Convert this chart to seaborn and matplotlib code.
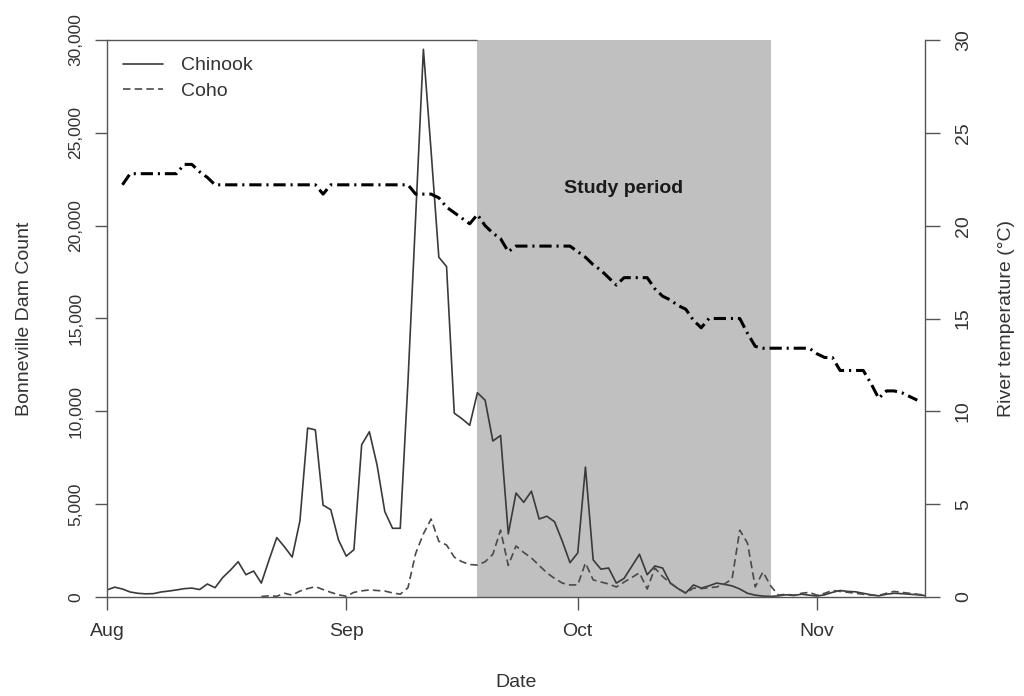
import numpy as np
import pandas as pd
import matplotlib
matplotlib.use("Agg")
import matplotlib.pyplot as plt
import matplotlib.dates as mdates
import matplotlib.ticker as mticker
import seaborn as sns

# --- data (daily values) ---
chinook_start = "2013-08-01"
chinook_counts = [
    # Aug
    380, 530, 430, 270, 200, 170, 180, 270, 320, 380, 450, 480, 400, 700, 500, 1050,
    1450, 1900, 1200, 1400, 750, 2000, 3200, 2700, 2150, 4100, 9100, 9000, 4950, 4700, 3070,
    # Sep
    2200, 2550, 8200, 8900, 7100, 4600, 3700, 3700, 11600, 20500, 29500, 24000, 18300, 17800, 9900,
    9600, 9250, 11000, 10600, 8400, 8700, 3400, 5600, 5100, 5700, 4200, 4350, 4050, 3000, 1850,
    # Oct
    2370, 7000, 2000, 1500, 1560, 750, 1000, 1650, 2300, 1200, 1670, 1560, 750, 450, 220, 650,
    480, 600, 750, 680, 600, 430, 200, 100, 50, 30, 60, 120, 80, 150, 100,
    # Nov
    50, 120, 250, 350, 300, 280, 200, 120, 60, 150, 200, 180, 150, 120, 80,
]

coho_start = "2013-08-21"
coho_counts = [
    # Aug
    30, 60, 40, 200, 100, 320, 450, 560, 400, 250, 120,
    # Sep
    40, 250, 330, 380, 350, 320, 220, 150, 500, 2350, 3400, 4200, 3000, 2800, 2150,
    1900, 1750, 1720, 1900, 2300, 3600, 1700, 2750, 2400, 2100, 1700, 1300, 1000, 750, 650,
    # Oct
    650, 1830, 920, 810, 700, 540, 800, 1050, 1300, 430, 1560, 1100, 750, 450, 200, 480,
    450, 500, 540, 700, 970, 3600, 2900, 540, 1350, 600, 100, 150, 100, 200, 250,
    # Nov
    100, 200, 350, 300, 250, 200, 150, 100, 80, 200, 300, 250, 200, 150, 100,
]

temp_start = "2013-08-03"
temp_c = [
    # Aug
    22.2, 22.8, 22.8, 22.8, 22.8, 22.8, 22.8, 22.8, 23.3, 23.3, 22.9, 22.6, 22.2, 22.2, 22.2,
    22.2, 22.2, 22.2, 22.2, 22.2, 22.2, 22.2, 22.2, 22.2, 22.2, 22.2, 21.7, 22.2, 22.2,
    # Sep
    22.2, 22.2, 22.2, 22.2, 22.2, 22.2, 22.2, 22.2, 22.2, 21.7, 21.7, 21.7, 21.5, 21.0, 20.7,
    20.4, 20.1, 20.6, 20.0, 19.6, 19.3, 18.6, 18.9, 18.9, 18.9, 18.9, 18.9, 18.9, 18.9, 18.9,
    # Oct
    18.6, 18.3, 17.9, 17.6, 17.2, 16.8, 17.2, 17.2, 17.2, 17.2, 16.6, 16.2, 16.0, 15.7, 15.5,
    14.9, 14.5, 15.0, 15.0, 15.0, 15.0, 15.0, 14.2, 13.5, 13.4, 13.4, 13.4, 13.4, 13.4, 13.4, 13.4,
    # Nov
    13.1, 12.9, 12.9, 12.2, 12.2, 12.2, 12.2, 11.5, 10.7, 11.1, 11.1, 11.0, 10.8, 10.6,
]

study_start = pd.Timestamp("2013-09-18")
study_end = pd.Timestamp("2013-10-26")
x_min = pd.Timestamp("2013-08-01")
x_max = pd.Timestamp("2013-11-15")
count_max = 30000
temp_max = 30

fish = pd.DataFrame({"date": pd.date_range(chinook_start, periods=len(chinook_counts)),
                     "count": chinook_counts})
coho = pd.DataFrame({"date": pd.date_range(coho_start, periods=len(coho_counts)),
                     "count": coho_counts})
temp = pd.DataFrame({"date": pd.date_range(temp_start, periods=len(temp_c)),
                     "temp": temp_c})

# --- style ---
sns.set_style("ticks")
plt.rcParams["font.family"] = ["Liberation Sans", "DejaVu Sans"]
axis_col = "#555555"
text_col = "#333333"

fig = plt.figure(figsize=(10.24, 6.96), dpi=100)
ax = fig.add_axes([107 / 1024, 1 - 597 / 696, 818 / 1024, 557 / 696])
ax2 = ax.twinx()

ax.axvspan(study_start, study_end, color="#c0c0c0", lw=0, zorder=0)

sns.lineplot(data=fish, x="date", y="count", ax=ax, color="#3a3a3a", lw=1.2, label="Chinook")
sns.lineplot(data=coho, x="date", y="count", ax=ax, color="#4a4a4a", lw=1.2,
             linestyle=(0, (4.5, 2.5)), label="Coho")
sns.lineplot(data=temp, x="date", y="temp", ax=ax2, color="black", lw=2.2,
             linestyle=(0, (4, 1.6, 0.7, 1.6)))

ax.set_xlim(x_min, x_max)
ax.set_ylim(0, count_max)
ax2.set_ylim(0, temp_max)

ax.xaxis.set_major_locator(mdates.MonthLocator())
ax.xaxis.set_major_formatter(mdates.DateFormatter("%b"))
ax.yaxis.set_major_locator(mticker.MultipleLocator(5000))
ax.yaxis.set_major_formatter(mticker.StrMethodFormatter("{x:,.0f}"))
ax2.yaxis.set_major_locator(mticker.MultipleLocator(5))

for s in ["top", "right"]:
    ax.spines[s].set_visible(False)
for s in ["top", "left", "bottom"]:
    ax2.spines[s].set_visible(False)
for s in ["left", "bottom"]:
    ax.spines[s].set_color(axis_col)
    ax.spines[s].set_linewidth(1.0)
ax2.spines["right"].set_color(axis_col)
ax2.spines["right"].set_linewidth(1.0)

# top border line over the unshaded left part
ax.hlines(count_max, x_min, study_start, color=axis_col, lw=1.0, clip_on=False, zorder=3)

ax.tick_params(axis="x", length=9.5, width=1.0, color=axis_col, pad=9,
               labelsize=14, labelcolor=text_col)
ax.tick_params(axis="y", length=9, width=1.0, color=axis_col, pad=8,
               labelsize=12.5, labelcolor=text_col, labelrotation=90)
ax2.tick_params(axis="y", length=10.5, width=1.0, color=axis_col, pad=11,
                labelsize=14, labelcolor=text_col, labelrotation=90)
for lab in ax.get_yticklabels():
    lab.set_verticalalignment("center")
for lab in ax2.get_yticklabels():
    lab.set_verticalalignment("center")

ax.set_xlabel("Date", fontsize=14, color=text_col)
ax.set_ylabel("Bonneville Dam Count", fontsize=14, color=text_col)
ax2.set_ylabel("River temperature (°C)", fontsize=14, color=text_col)
ax.xaxis.set_label_coords(0.5, -0.138)
ax.yaxis.set_label_coords(-0.091, 0.5)
ax2.yaxis.set_label_coords(1.089, 0.5)

ax.text(pd.Timestamp("2013-10-07"), 22000, "Study period", ha="center", va="center",
        fontsize=14, fontweight="bold", color="#1a1a1a")

ax.legend(loc="upper left", bbox_to_anchor=(0.0196, 0.97), frameon=False, fontsize=14,
          handlelength=2.06, handletextpad=0.9, labelspacing=0.4, borderpad=0,
          borderaxespad=0, labelcolor=text_col)

fig.savefig("out.png", dpi=100)
